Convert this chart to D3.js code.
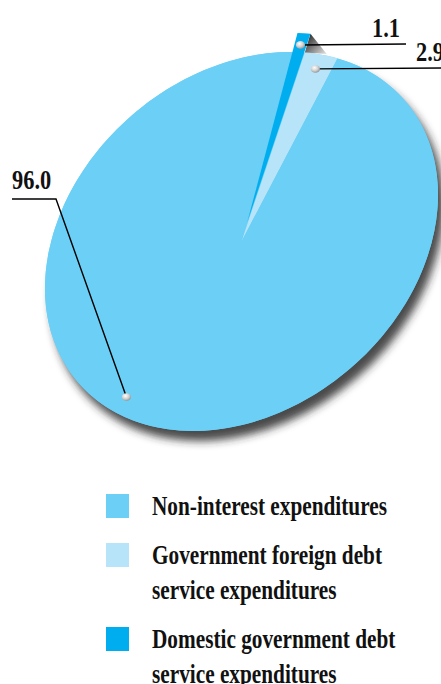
<!DOCTYPE html>
<html>
<head>
<meta charset="utf-8">
<script src="https://cdn.jsdelivr.net/npm/d3@7"></script>
<style>
  html, body { margin: 0; padding: 0; background: #fff; overflow: hidden; }
  text { font-family: "Liberation Serif", "Times New Roman", serif; font-weight: bold; fill: #111; }
</style>
</head>
<body>
<script>
// ---- data ----
const categories = [
  "Non-interest expenditures",
  "Government foreign debt service expenditures",
  "Domestic government debt service expenditures"
];
const legendLines = [
  ["Non-interest expenditures"],
  ["Government foreign debt", "service expenditures"],
  ["Domestic government debt", "service expenditures"]
];
const values = [96.0, 2.9, 1.1];
const valueLabels = ["96.0", "2.9", "1.1"];
const colors = ["#6BCFF6", "#B8E4F9", "#00AEEF"];
const unitLabel = "(%)";

// ---- layout ----
const W = 441, H = 684;
const cx = 241.5, cy = 241.5;        // pie centre
const R = 215.8;                      // radius before squashing
const squash = 167.2 / 215.8;         // minor / major axis
const tilt = -40.8;                   // rotation of the tilted disc (deg)
const startDeg = 48.6;                // where the first (smallest) slice begins
const explode = [0, 0, 21.6];         // outward pull of each slice
const fontSize = 28, condense = 0.76, condenseNum = 0.8;

const rad = Math.PI / 180;
const ct = Math.cos(tilt * rad), st = Math.sin(tilt * rad);
// map a point of the flat disc to the page
function toScreen(p) {
  const x = p[0], y = p[1] * squash;
  return [cx + x * ct - y * st, cy + x * st + y * ct];
}
function polar(angle, r) { return [r * Math.sin(angle), -r * Math.cos(angle)]; }

const svg = d3.select("body").append("svg").attr("width", W).attr("height", H);
const defs = svg.append("defs");

const blur = defs.append("filter").attr("id", "soft")
  .attr("x", "-20%").attr("y", "-20%").attr("width", "140%").attr("height", "140%");
blur.append("feGaussianBlur").attr("stdDeviation", 4);

const bead = defs.append("radialGradient").attr("id", "bead")
  .attr("cx", "40%").attr("cy", "35%").attr("r", "70%");
bead.append("stop").attr("offset", "0%").attr("stop-color", "#ffffff");
bead.append("stop").attr("offset", "55%").attr("stop-color", "#cfcfcf");
bead.append("stop").attr("offset", "100%").attr("stop-color", "#8c8c8c");

// slices drawn clockwise: smallest first
const order = [2, 1, 0];
const pie = d3.pie().sort(null).value(i => values[i])
  .startAngle(startDeg * rad).endAngle(startDeg * rad + 2 * Math.PI);
const arcs = pie(order);
const arcGen = d3.arc().innerRadius(0).outerRadius(R);
const byIndex = {};
arcs.forEach(a => byIndex[a.data] = a);

const discTransform = `translate(${cx},${cy}) rotate(${tilt}) scale(1,${squash})`;

// drop shadow
svg.append("g").attr("filter", "url(#soft)")
  .append("circle")
  .attr("transform", `translate(${cx + 6},${cy + 10}) rotate(${tilt}) scale(1,${squash})`)
  .attr("r", R).attr("fill", "#2a2a2a").attr("opacity", 0.85);

const disc = svg.append("g").attr("transform", discTransform);

// base of the disc in the colour of the largest slice
disc.append("circle").attr("r", R).attr("fill", colors[0]);

function offsetOf(a) {
  const mid = (a.startAngle + a.endAngle) / 2;
  return polar(mid, explode[a.data]);
}

// slices other than the raised one
arcs.filter(a => explode[a.data] === 0).forEach(a => {
  disc.append("path").attr("d", arcGen(a)).attr("fill", colors[a.data]);
});

// side face of the raised slice
const raised = byIndex[2];
const off = offsetOf(raised);
const cornerFlat = polar(raised.endAngle, R);
const cornerUp = [cornerFlat[0] + off[0], cornerFlat[1] + off[1]];
const sideEnd = polar(raised.endAngle + 6.7 * rad, R * 1.008);
const sA = toScreen(cornerUp), sB = toScreen(sideEnd), sC = toScreen(cornerFlat);
const sideGrad = defs.append("linearGradient").attr("id", "side")
  .attr("gradientUnits", "userSpaceOnUse")
  .attr("x1", sA[0] - 2).attr("y1", sA[1] + 4).attr("x2", sB[0]).attr("y2", sB[1]);
sideGrad.append("stop").attr("offset", "0%").attr("stop-color", "#3c3c3c");
sideGrad.append("stop").attr("offset", "100%").attr("stop-color", "#e6e6e6");
svg.append("path")
  .attr("d", d3.line()([sA, sB, sC]) + "Z")
  .attr("fill", "url(#side)");

// raised slice
const disc2 = svg.append("g").attr("transform", discTransform);
arcs.filter(a => explode[a.data] !== 0).forEach(a => {
  const o = offsetOf(a);
  disc2.append("path").attr("d", arcGen(a))
    .attr("transform", `translate(${o[0]},${o[1]})`)
    .attr("fill", colors[a.data]);
});

// ---- value labels with leader lines ----
// where the bead sits inside each slice (fraction of its sweep, radius share)
const beadAt = [
  { frac: 0.552, r: 0.911 },
  { frac: 0.5, r: 0.924 },
  { frac: 0.5, r: 0.938 }
];
const leader = [
  { side: "left", elbow: [56, 199], endX: 12 },
  { side: "right", endX: 450 },
  { side: "right", endX: 406 }
];

const labelLayer = svg.append("g");
[0, 1, 2].forEach(i => {
  const a = byIndex[i];
  const ang = a.startAngle + (a.endAngle - a.startAngle) * beadAt[i].frac;
  const p = polar(ang, R * beadAt[i].r);
  const o = explode[i] ? offsetOf(a) : [0, 0];
  const b = toScreen([p[0] + o[0], p[1] + o[1]]);
  const L = leader[i];
  let pts, tx, ty, anchor;
  if (L.side === "left") {
    pts = [b, L.elbow, [L.endX, L.elbow[1]]];
    tx = L.endX; ty = L.elbow[1] - 10; anchor = "start";
  } else {
    pts = [b, [L.endX, b[1] - 1]];
    tx = L.endX - 6; ty = b[1] - 8; anchor = "end";
  }
  labelLayer.append("path").attr("d", d3.line()(pts))
    .attr("fill", "none").attr("stroke", "#000").attr("stroke-width", 1.4);
  labelLayer.append("ellipse").attr("cx", b[0]).attr("cy", b[1])
    .attr("rx", 4.6).attr("ry", 3.9).attr("fill", "url(#bead)");
  labelLayer.append("text")
    .attr("transform", `translate(${tx},${ty}) scale(${condenseNum},1)`)
    .attr("text-anchor", anchor)
    .attr("font-size", fontSize)
    .text(valueLabels[i]);
});

// unit note above the disc
svg.append("text")
  .attr("transform", `translate(297.5,-7) scale(0.96,1)`)
  .attr("text-anchor", "middle").attr("font-size", fontSize)
  .text(unitLabel);

// ---- legend ----
const legend = svg.append("g");
const legX = 106, legTextX = 152, legTop = 494, rowGap = 49, lineH = 35;
let y = legTop;
legendLines.forEach((lines, i) => {
  legend.append("rect").attr("x", legX).attr("y", y)
    .attr("width", 23).attr("height", 24).attr("fill", colors[i]);
  lines.forEach((ln, j) => {
    legend.append("text")
      .attr("transform", `translate(${legTextX},${y + 20.5 + j * lineH}) scale(${condense},1)`)
      .attr("font-size", fontSize)
      .text(ln);
  });
  y += rowGap + (lines.length - 1) * lineH;
});
</script>
</body>
</html>
